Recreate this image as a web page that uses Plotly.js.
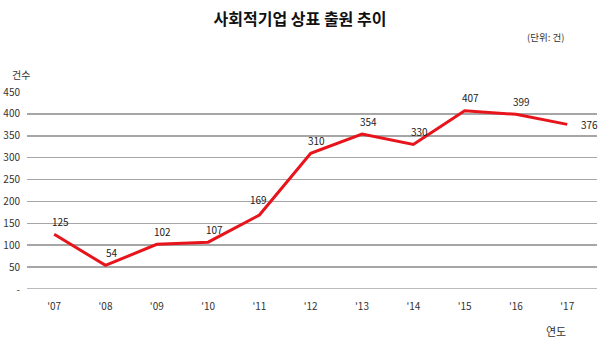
<!DOCTYPE html>
<html><head><meta charset="utf-8">
<script src="https://cdn.plot.ly/plotly-3.0.1.min.js"></script>
<style>html,body{margin:0;padding:0;background:#fff}#c{width:600px;height:352px}</style>
</head><body><div id="c"></div>
<script>
const years = ["'07","'08","'09","'10","'11","'12","'13","'14","'15","'16","'17"];
const counts = [125, 54, 102, 107, 169, 310, 354, 330, 407, 399, 376];
const yTickVals = [0, 50, 100, 150, 200, 250, 300, 350, 400, 450];
const yTickText = ["-", "50", "100", "150", "200", "250", "300", "350", "400", "450"];

const font = "Noto Sans CJK KR, sans-serif";
const last = counts.length - 1;

function labelShift(i) {
  if (i === last) return {xanchor: "left", xshift: 12, yshift: 0};
  // label sits left of a steep rise: keep it centred and a little higher
  if (i > 0 && i < last && counts[i + 1] - counts[i] > 100) return {xanchor: "center", xshift: -1, yshift: 16};
  return {xanchor: "center", xshift: 6, yshift: 13};
}

const labelAnns = counts.map((v, i) => Object.assign({
  x: years[i], y: v, xref: "x", yref: "y", text: String(v), showarrow: false,
  yanchor: "middle", font: {family: font, size: 10, color: "#222"}
}, labelShift(i)));

Plotly.newPlot("c", [{
  x: years, y: counts, type: "scatter", mode: "lines",
  line: {color: "#e8141c", width: 3},
  cliponaxis: false, hoverinfo: "none"
}], {
  width: 600, height: 352,
  margin: {l: 27, r: 3, t: 92, b: 63},
  paper_bgcolor: "#fff", plot_bgcolor: "#fff",
  showlegend: false,
  font: {family: font, size: 10, color: "#333"},
  title: {text: "<b>사회적기업 상표 출원 추이</b>", x: 0.5, xanchor: "center", y: 0.945, yanchor: "middle",
          font: {family: font, size: 16, color: "#111"}},
  xaxis: {type: "category", range: [-0.53, 10.58], showgrid: false, zeroline: false, showline: false,
          ticks: "outside", ticklen: 8, tickcolor: "rgba(0,0,0,0)",
          tickfont: {family: font, size: 10, color: "#333"}},
  yaxis: {range: [0, 450], tickvals: yTickVals, ticktext: yTickText, showgrid: true,
          gridcolor: "#a6a6a6", gridwidth: 1.5, zeroline: false, showline: false,
          ticks: "outside", ticklen: 4, tickcolor: "rgba(0,0,0,0)",
          tickfont: {family: font, size: 10, color: "#333"}},
  shapes: [{type: "line", xref: "paper", yref: "y", x0: 0, x1: 1, y0: 0, y1: 0,
            line: {color: "#a6a6a6", width: 1.5}}],
  annotations: labelAnns.concat([
    {text: "(단위: 건)", xref: "paper", yref: "paper", x: 1, y: 1, xanchor: "right", yanchor: "bottom",
     yshift: 46, xshift: -31, showarrow: false, font: {family: font, size: 9.5, color: "#333"}},
    {text: "건수", xref: "paper", yref: "paper", x: 0, y: 1, xanchor: "left", yanchor: "bottom",
     xshift: -17, yshift: 8, showarrow: false, font: {family: font, size: 10, color: "#333"}},
    {text: "연도", xref: "paper", yref: "paper", x: 1, y: 0, xanchor: "right", yanchor: "top",
     xshift: -29, yshift: -32, showarrow: false, font: {family: font, size: 11, color: "#333"}}
  ])
}, {displayModeBar: false, staticPlot: true});
</script></body></html>
